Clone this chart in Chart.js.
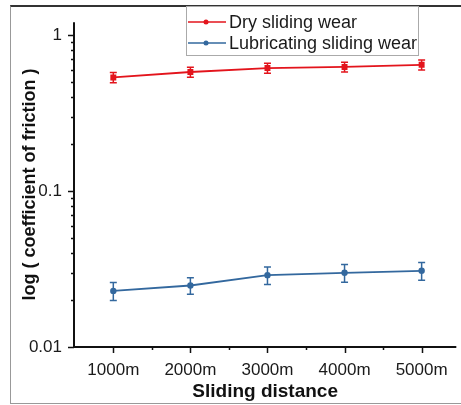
<!DOCTYPE html>
<html>
<head>
<meta charset="utf-8">
<script src="https://cdn.jsdelivr.net/npm/chart.js@4.4.0/dist/chart.umd.min.js"></script>
<style>
  html, body { margin: 0; padding: 0; background: #fff; overflow: hidden; }
  #wrap { position: relative; width: 461px; height: 405px; }
  #frame {
    position: absolute; left: 10px; top: 5px; width: 470px; height: 396px;
    border-left: 1px solid #999; border-bottom: 1px solid #999; border-top: 2px solid #333;
    pointer-events: none;
  }
  canvas { position: absolute; left: 0; top: 0; }
</style>
</head>
<body>
<div id="wrap">
  <div id="frame"></div>
  <canvas id="chart" width="461" height="405"></canvas>
</div>
<script>
// data
const distances = [1000, 2000, 3000, 4000, 5000]
const distanceLabels = ['1000m', '2000m', '3000m', '4000m', '5000m']
const dryCof = [0.535, 0.58, 0.615, 0.625, 0.645]
const dryErr = [0.04, 0.043, 0.045, 0.046, 0.048]
const lubCof = [0.0229, 0.0248, 0.0289, 0.0299, 0.0308]
const lubErr = [0.003, 0.003, 0.0037, 0.0039, 0.004]
const yMajorTicks = [0.01, 0.1, 1]

const RED = '#e3141c'
const BLUE = '#33689e'
const FONT = "'Liberation Sans', Arial, sans-serif"

function points(vals) {
    return distances.map((d, i) => ({ x: d, y: vals[i] }))
}

// error bars, ticks, axis lines and the boxed legend
const decor = {
    id: 'decor',
    beforeDatasetsDraw(chart) {
        const ctx = chart.ctx
        const xs = chart.scales.x, ys = chart.scales.y
        const sets = [[dryCof, dryErr, RED], [lubCof, lubErr, BLUE]]
        ctx.save()
        ctx.lineWidth = 1.5
        sets.forEach(([vals, errs, col]) => {
            ctx.strokeStyle = col
            vals.forEach((v, i) => {
                const x = xs.getPixelForValue(distances[i])
                const hi = ys.getPixelForValue(v + errs[i])
                const lo = ys.getPixelForValue(v - errs[i])
                ctx.beginPath()
                ctx.moveTo(x, hi); ctx.lineTo(x, lo)
                ctx.moveTo(x - 3.5, hi); ctx.lineTo(x + 3.5, hi)
                ctx.moveTo(x - 3.5, lo); ctx.lineTo(x + 3.5, lo)
                ctx.stroke()
            })
        })
        ctx.restore()
    },
    afterDraw(chart) {
        const ctx = chart.ctx
        const area = chart.chartArea
        const xs = chart.scales.x, ys = chart.scales.y
        ctx.save()
        ctx.strokeStyle = '#111'
        ctx.lineWidth = 2
        ctx.beginPath()
        ctx.moveTo(area.left, area.top); ctx.lineTo(area.left, area.bottom + 1)
        ctx.moveTo(area.left - 1, area.bottom); ctx.lineTo(area.right, area.bottom)
        ctx.stroke()
        ctx.lineWidth = 1.5
        ctx.beginPath()
        ys.ticks.forEach(t => {
            const y = Math.round(ys.getPixelForValue(t.value)) + 0.5
            ctx.moveTo(area.left, y); ctx.lineTo(area.left - (t.major ? 6 : 3), y)
        })
        xs.ticks.forEach(t => {
            const x = Math.round(xs.getPixelForValue(t.value)) + 0.5
            ctx.moveTo(x, area.bottom); ctx.lineTo(x, area.bottom + (t.major ? 6 : 3))
        })
        ctx.stroke()

        // legend box
        ctx.lineWidth = 1
        ctx.strokeStyle = '#aaa'
        ctx.strokeRect(186.5, 6.5, 232, 49)
        ctx.font = '18px ' + FONT
        ctx.textBaseline = 'middle'
        chart.data.datasets.forEach((ds, i) => {
            const y = 22 + i * 21
            ctx.strokeStyle = ds.borderColor
            ctx.lineWidth = 1.5
            ctx.beginPath()
            ctx.moveTo(188, y); ctx.lineTo(226, y)
            ctx.stroke()
            ctx.fillStyle = ds.borderColor
            ctx.beginPath()
            ctx.arc(206, y, 2.5, 0, Math.PI * 2)
            ctx.fill()
            ctx.fillStyle = '#1a1a1a'
            ctx.fillText(ds.label, 229, y + 1)
        })
        ctx.restore()
    }
}

const ctx = document.getElementById('chart').getContext('2d')
const myChart = new Chart(ctx, {
    type: 'line',
    data: {
        datasets: [{
            label: 'Dry sliding wear',
            data: points(dryCof),
            borderColor: RED,
            backgroundColor: RED,
            borderWidth: 1.8,
            pointStyle: 'rect',
            pointRadius: 4.2,
            pointBorderWidth: 0,
        }, {
            label: 'Lubricating sliding wear',
            data: points(lubCof),
            borderColor: BLUE,
            backgroundColor: BLUE,
            borderWidth: 1.8,
            pointStyle: 'circle',
            pointRadius: 3.2,
            pointBorderWidth: 0,
        }]
    },
    options: {
        responsive: false,
        animation: false,
        layout: { padding: { left: 0, right: 0, top: 20, bottom: 0 } },
        plugins: {
            legend: { display: false },
            tooltip: { enabled: false }
        },
        scales: {
            x: {
                type: 'linear',
                min: 490,
                max: 5450,
                grid: { display: false, drawTicks: false },
                border: { display: false },
                afterFit: scale => { scale.height = 58 },
                afterBuildTicks: scale => {
                    const t = []
                    distances.forEach((d, i) => {
                        t.push({ value: d, major: true })
                        if (i < distances.length - 1) t.push({ value: (d + distances[i + 1]) / 2, major: false })
                    })
                    scale.ticks = t
                },
                ticks: {
                    autoSkip: false,
                    maxRotation: 0,
                    padding: 13,
                    color: '#1a1a1a',
                    font: { family: FONT, size: 17 },
                    callback: value => {
                        const i = distances.indexOf(value)
                        return i >= 0 ? distanceLabels[i] : ''
                    }
                },
                title: {
                    display: true,
                    text: 'Sliding distance',
                    color: '#111',
                    font: { family: FONT, size: 19, weight: 'bold' },
                    padding: { top: 0, bottom: 2 }
                }
            },
            y: {
                type: 'logarithmic',
                min: 0.01,
                max: 1.21,
                grid: { display: false, drawTicks: false },
                border: { display: false },
                afterFit: scale => { scale.width = 74 },
                afterBuildTicks: scale => {
                    const t = []
                    for (let k = 0; k < yMajorTicks.length; k++) {
                        const base = yMajorTicks[k]
                        t.push({ value: base, major: true })
                        if (k < yMajorTicks.length - 1) {
                            for (let m = 2; m <= 9; m++) t.push({ value: +(base * m).toPrecision(3), major: false })
                        }
                    }
                    scale.ticks = t
                },
                ticks: {
                    autoSkip: false,
                    padding: 12,
                    color: '#1a1a1a',
                    font: { family: FONT, size: 17 },
                    callback: value => yMajorTicks.includes(value) ? String(value) : ''
                },
                title: {
                    display: true,
                    text: 'log ( coefficient of friction )',
                    color: '#111',
                    font: { family: FONT, size: 18, weight: 'bold' },
                    padding: { top: 19, bottom: 0 }
                }
            }
        }
    },
    plugins: [decor]
})
</script>
</body>
</html>
